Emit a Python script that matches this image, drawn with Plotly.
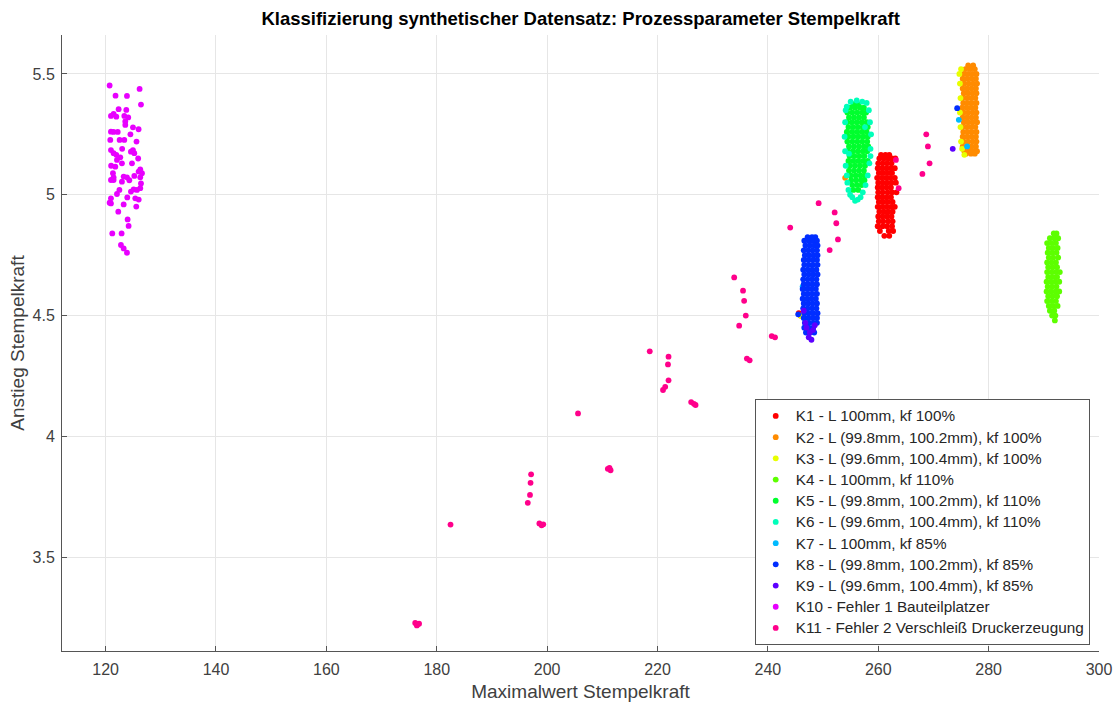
import plotly.graph_objects as go

# ---------------- data ----------------
class_names = [
    "K1 - L 100mm, kf 100%",
    "K2 - L (99.8mm, 100.2mm), kf 100%",
    "K3 - L (99.6mm, 100.4mm), kf 100%",
    "K4 - L 100mm, kf 110%",
    "K5 - L (99.8mm, 100.2mm), kf 110%",
    "K6 - L (99.6mm, 100.4mm), kf 110%",
    "K7 - L 100mm, kf 85%",
    "K8 - L (99.8mm, 100.2mm), kf 85%",
    "K9 - L (99.6mm, 100.4mm), kf 85%",
    "K10 - Fehler 1 Bauteilplatzer",
    "K11 - Fehler 2 Verschleiß Druckerzeugung",
]

# dense clusters: rows of (Anstieg, [Maximalwert ...])
k1_rows = [
    (5.165, [260.5, 261.3, 262.0]),
    (5.150, [260.2, 261.0, 261.8, 262.5, 263.1]),
    (5.130, [260.0, 260.8, 261.6, 262.4]),
    (5.110, [259.9, 260.7, 261.5, 262.3, 263.0]),
    (5.090, [260.1, 260.9, 261.7, 262.5]),
    (5.070, [259.8, 260.6, 261.4, 262.2, 263.0]),
    (5.050, [260.0, 260.8, 261.6, 262.4, 263.2]),
    (5.030, [259.9, 260.7, 261.5, 262.3]),
    (5.010, [260.0, 260.8, 261.7, 262.5, 263.3]),
    (4.990, [259.9, 260.7, 261.5, 262.3]),
    (4.970, [260.1, 260.9, 261.7, 262.6]),
    (4.950, [259.9, 260.7, 261.5, 262.3, 263.0]),
    (4.930, [260.2, 261.0, 261.8, 262.6]),
    (4.910, [260.0, 260.8, 261.6, 262.4]),
    (4.890, [260.1, 260.9, 261.8, 262.6]),
    (4.870, [259.9, 260.8, 261.6, 262.5]),
    (4.850, [260.3, 261.9, 262.7]),
    (4.830, [261.1, 262.0]),
]
k1_extra = [(245.6, 4.510)]

k2_rows = [
    (5.535, [276.3, 277.2]),
    (5.520, [275.8, 276.7, 277.5]),
    (5.500, [275.5, 276.3, 277.1, 277.8]),
    (5.480, [275.3, 276.1, 276.9, 277.7]),
    (5.460, [275.6, 276.4, 277.2, 277.9]),
    (5.440, [275.3, 276.1, 276.9, 277.7]),
    (5.420, [275.5, 276.3, 277.1, 277.8]),
    (5.400, [275.2, 276.0, 276.8, 277.6]),
    (5.380, [275.4, 276.2, 277.0, 277.8]),
    (5.360, [275.2, 276.0, 276.8, 277.6]),
    (5.340, [275.5, 276.3, 277.1, 277.8]),
    (5.320, [275.3, 276.1, 276.9, 277.7]),
    (5.300, [275.5, 276.3, 277.1, 277.9]),
    (5.280, [275.2, 276.0, 276.8, 277.6]),
    (5.260, [275.4, 276.2, 277.0, 277.8]),
    (5.240, [275.3, 276.1, 276.9, 277.7]),
    (5.220, [275.5, 276.3, 277.1, 277.8]),
    (5.200, [275.3, 276.1, 276.9, 277.7]),
    (5.180, [275.6, 276.4, 277.2, 277.9]),
    (5.170, [275.9, 276.8, 277.5]),
]
k2_extra = [(254.0, 5.070), (245.9, 4.500)]

k3_points = [(274.7, 5.500), (275.0, 5.520), (274.8, 5.460), (274.9, 5.400),
             (274.8, 5.340), (274.9, 5.280), (275.0, 5.220), (275.2, 5.190),
             (275.6, 5.165), (246.1, 4.497)]

k4_rows = [
    (4.840, [291.8, 292.3]),
    (4.820, [291.1, 291.9, 292.6]),
    (4.800, [290.6, 291.4, 292.2]),
    (4.780, [290.9, 291.7, 292.5]),
    (4.760, [290.7, 291.5, 292.3]),
    (4.740, [290.9, 291.7, 292.6]),
    (4.720, [290.6, 291.4, 292.2]),
    (4.700, [290.8, 291.6, 292.4]),
    (4.680, [290.6, 291.4, 292.2, 292.9]),
    (4.660, [290.8, 291.6, 292.4]),
    (4.640, [290.5, 291.3, 292.1, 292.8]),
    (4.620, [290.7, 291.5, 292.3]),
    (4.600, [290.5, 291.3, 292.1, 292.8]),
    (4.580, [290.8, 291.6, 292.4]),
    (4.560, [290.6, 291.4, 292.2]),
    (4.540, [290.9, 291.7, 292.5]),
    (4.520, [291.1, 291.9]),
    (4.500, [291.5, 292.1]),
    (4.480, [292.0]),
]

k5_rows = [
    (5.375, [255.5, 256.4]),
    (5.360, [254.9, 255.8, 256.7, 257.4]),
    (5.340, [254.4, 255.3, 256.2, 257.1, 257.8]),
    (5.320, [254.7, 255.6, 256.5, 257.4]),
    (5.300, [254.3, 255.2, 256.1, 257.0, 257.9]),
    (5.280, [254.6, 255.5, 256.4, 257.3, 258.1]),
    (5.260, [254.3, 255.2, 256.1, 257.0, 257.9]),
    (5.240, [254.6, 255.5, 256.4, 257.3, 258.1]),
    (5.220, [254.4, 255.3, 256.2, 257.1, 258.0]),
    (5.200, [254.7, 255.6, 256.5, 257.4, 258.2]),
    (5.180, [254.5, 255.4, 256.3, 257.2, 258.0]),
    (5.160, [254.8, 255.7, 256.6, 257.5]),
    (5.140, [254.6, 255.5, 256.4, 257.3, 258.1]),
    (5.120, [254.9, 255.8, 256.7, 257.6]),
    (5.100, [254.7, 255.6, 256.5, 257.4]),
    (5.080, [255.0, 255.9, 256.8, 257.6]),
    (5.060, [255.1, 256.0, 256.9, 257.5]),
    (5.040, [255.3, 256.2, 257.0]),
    (5.020, [255.5, 256.4]),
]

k6_points = [(254.0, 5.300), (253.9, 5.240), (254.0, 5.180), (254.1, 5.120),
             (254.3, 5.080), (254.4, 5.050), (254.6, 5.020), (254.9, 5.000),
             (255.3, 4.990), (255.8, 4.975), (256.3, 4.980), (256.8, 4.990),
             (257.2, 5.010), (257.7, 5.040), (258.1, 5.080), (258.4, 5.130),
             (258.6, 5.160), (258.6, 5.190), (258.7, 5.250), (258.5, 5.300),
             (258.3, 5.350), (257.9, 5.380), (257.1, 5.385), (256.1, 5.390),
             (255.0, 5.385), (254.3, 5.365), (254.1, 5.350), (254.7, 5.170),
             (257.6, 5.280)]

k7_points = [(274.6, 5.310), (276.1, 5.200), (246.3, 4.620)]

k8_rows = [
    (4.825, [247.2, 248.0, 248.6]),
    (4.810, [246.6, 247.4, 248.2, 248.9]),
    (4.790, [246.8, 247.6, 248.4, 249.0]),
    (4.770, [246.5, 247.3, 248.1, 248.9]),
    (4.750, [246.7, 247.5, 248.3, 249.0]),
    (4.730, [246.5, 247.3, 248.1, 248.9]),
    (4.710, [246.6, 247.4, 248.2, 249.0]),
    (4.690, [246.4, 247.2, 248.0, 248.8]),
    (4.670, [246.6, 247.4, 248.2, 249.0]),
    (4.650, [246.4, 247.2, 248.0, 248.8]),
    (4.630, [246.5, 247.3, 248.1, 248.9]),
    (4.610, [246.3, 247.1, 247.9, 248.7]),
    (4.590, [246.5, 247.3, 248.1, 248.9]),
    (4.570, [246.3, 247.1, 247.9, 248.7]),
    (4.550, [246.5, 247.3, 248.1, 248.9]),
    (4.530, [246.4, 247.2, 248.0, 248.8]),
    (4.510, [246.6, 247.4, 248.2, 249.0]),
    (4.490, [246.5, 247.3, 248.1, 248.9]),
    (4.470, [246.7, 247.5, 248.3, 248.9]),
    (4.450, [246.6, 247.4, 248.2]),
    (4.430, [246.9, 247.7, 248.4]),
]
k8_extra = [(274.3, 5.358), (245.5, 4.505)]

k9_points = [(247.0, 4.450), (247.6, 4.430), (248.2, 4.440), (247.4, 4.410),
             (247.9, 4.400), (246.8, 4.470), (246.5, 4.520), (248.5, 4.460),
             (273.5, 5.190)]

k10_points = [
    (120.73, 5.452), (126.16, 5.438), (123.87, 5.409), (126.41, 5.373),
    (122.36, 5.354), (123.75, 5.351), (121.45, 5.334), (120.97, 5.326),
    (121.94, 5.323), (123.39, 5.326), (123.57, 5.303), (123.57, 5.289),
    (124.96, 5.279), (125.98, 5.271), (120.97, 5.261), (121.45, 5.260),
    (122.54, 5.227), (123.39, 5.227), (120.85, 5.227), (120.97, 5.185),
    (121.45, 5.172), (121.94, 5.165), (122.66, 5.155), (124.96, 5.185),
    (125.20, 5.172), (124.59, 5.178), (122.06, 5.144), (122.96, 5.130),
    (124.78, 5.130), (126.28, 5.105), (125.98, 5.096), (121.33, 5.089),
    (121.45, 5.072), (120.97, 5.061), (123.27, 5.075), (123.87, 5.072),
    (122.96, 5.054), (125.20, 5.078), (126.28, 5.072), (126.41, 5.047),
    (126.28, 5.027), (125.08, 5.022), (124.59, 5.013), (121.45, 5.061),
    (120.97, 4.985), (122.06, 5.003), (120.73, 4.967), (123.93, 4.989),
    (125.38, 4.985), (123.27, 4.960), (125.56, 4.951), (123.99, 4.898),
    (124.17, 4.871), (121.21, 4.840), (122.90, 4.840), (122.78, 4.792),
    (123.27, 4.778), (123.87, 4.760), (120.97, 4.964), (125.68, 5.020),
    (126.59, 5.089), (121.76, 5.116), (122.20, 5.260), (125.60, 5.220),
    (124.30, 5.060), (122.50, 5.020), (125.90, 5.150), (121.80, 5.410),
    (124.10, 5.320), (126.00, 4.980), (122.30, 4.930), (121.00, 5.120),
    (124.50, 5.250), (123.00, 5.190),
]

k11_points = [
    (176.1, 3.228), (176.5, 3.222), (176.8, 3.225), (176.4, 3.218),
    (182.5, 3.635),
    (196.5, 3.725), (196.9, 3.758), (197.0, 3.808), (197.1, 3.843),
    (198.6, 3.640), (199.0, 3.632), (199.3, 3.636),
    (205.6, 4.095),
    (211.0, 3.866), (211.5, 3.860), (211.3, 3.870),
    (218.6, 4.352),
    (221.0, 4.192), (221.4, 4.205), (222.0, 4.232), (221.9, 4.298), (222.0, 4.330),
    (226.1, 4.142), (226.6, 4.135), (226.9, 4.130),
    (233.9, 4.658), (235.5, 4.603), (235.7, 4.561), (236.0, 4.500), (234.8, 4.458),
    (236.2, 4.322), (236.7, 4.315),
    (240.7, 4.415), (241.3, 4.410),
    (244.05, 4.864),
    (249.2, 4.965), (252.1, 4.927), (252.4, 4.882), (252.7, 4.815), (251.2, 4.771),
    (263.2, 5.144), (263.7, 5.027),
    (268.0, 5.086), (268.7, 5.250), (269.0, 5.200), (269.3, 5.130),
]

x_tick_values = [120, 140, 160, 180, 200, 220, 240, 260, 280, 300]
y_tick_values = [3.5, 4, 4.5, 5, 5.5]
y_tick_labels = ["3.5", "4", "4.5", "5", "5.5"]

# ---------------- styles ----------------
colors = ["#ff0000", "#ff8b00", "#e8ff00", "#5dff00", "#00ff2e", "#00ffba",
          "#00baff", "#002eff", "#5d00ff", "#e800ff", "#ff008b"]
FONT = "Liberation Sans, Arial, Helvetica, sans-serif"
TXT = "#262626"


def from_rows(rows, extra=()):
    pts = [(x, y) for y, xs in rows for x in xs]
    return pts + list(extra)


class_points = [
    from_rows(k1_rows, k1_extra),
    from_rows(k2_rows, k2_extra),
    k3_points,
    from_rows(k4_rows),
    from_rows(k5_rows),
    k6_points,
    k7_points,
    from_rows(k8_rows, k8_extra),
    k9_points,
    k10_points,
    k11_points,
]

fig = go.Figure()
for i, (name, pts) in enumerate(zip(class_names, class_points)):
    fig.add_trace(go.Scatter(
        x=[p[0] for p in pts], y=[p[1] for p in pts],
        mode="markers",
        name=f'<span style="font-size:15.3px">{name}</span>',
        hovertemplate=f"{name}<br>%{{x}}, %{{y}}<extra></extra>",
        marker=dict(color=colors[i], size=5.8, line=dict(width=0)),
    ))

axis_common = dict(
    showline=True, linecolor="#555555", linewidth=1,
    ticks="inside", ticklen=5, tickcolor="#555555",
    showgrid=True, gridcolor="#e6e6e6", gridwidth=1,
    zeroline=False, mirror=False, automargin=False,
    tickfont=dict(family=FONT, size=16, color="#404040"),
)

fig.update_layout(
    width=1118, height=704,
    paper_bgcolor="white", plot_bgcolor="white",
    margin=dict(l=62, r=19, t=35, b=53),
    title=dict(text="<b>Klassifizierung synthetischer Datensatz: Prozessparameter Stempelkraft</b>",
               x=0.5194, xanchor="center", y=0.983, yanchor="top",
               font=dict(family=FONT, size=18.5, color="#000000")),
    xaxis=dict(range=[112.1, 300], tickvals=x_tick_values,
               ticklabelstandoff=4,
               title=dict(text="Maximalwert Stempelkraft", standoff=7,
                          font=dict(family=FONT, size=19, color="#404040")),
               **axis_common),
    yaxis=dict(range=[3.112, 5.661], tickvals=y_tick_values,
               ticktext=y_tick_labels, ticklabelstandoff=3,
               title=dict(text="Anstieg Stempelkraft", standoff=2,
                          font=dict(family=FONT, size=19, color="#404040")),
               **axis_common),
    legend=dict(x=0.668, y=0.4085, xanchor="left", yanchor="top",
                bgcolor="white", bordercolor="#555555", borderwidth=1,
                font=dict(family=FONT, size=14, color=TXT),
                itemwidth=30),
    showlegend=True,
)

fig.write_html("out.html", config={"displayModeBar": False},
               post_script="document.body.style.margin='0';document.body.style.padding='0';")
